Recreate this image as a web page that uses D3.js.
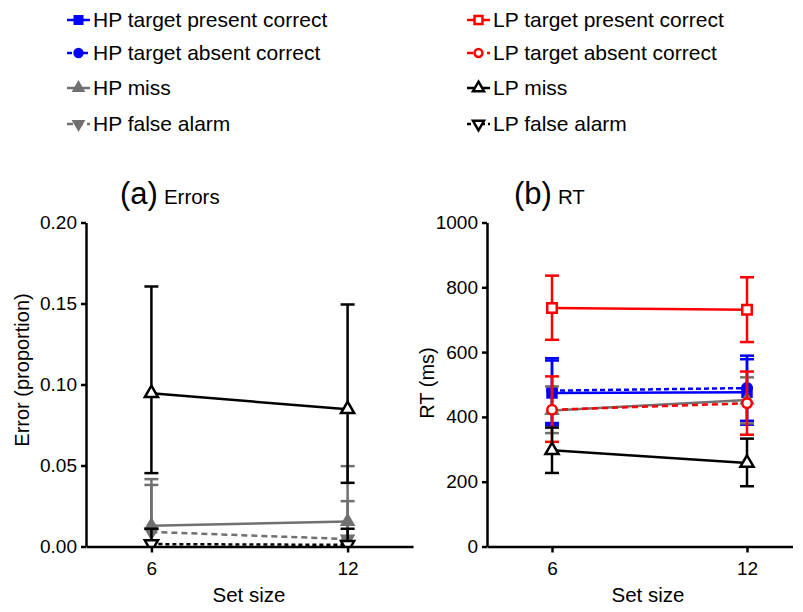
<!DOCTYPE html>
<html>
<head>
<meta charset="utf-8">
<script src="https://cdn.jsdelivr.net/npm/d3@7"></script>
<style>
  body { margin: 0; background: #fff; }
  svg text { font-family: "Liberation Sans", Arial, Helvetica, sans-serif; fill: #000; }
</style>
</head>
<body>
<div id="chart"></div>
<script>
// set sizes on the x axis
var setSizes = [6, 12]

// (a) errors, proportion: mean, lower and upper error bar ends
var errHpMiss = [0.0128, 0.0155], errHpMissLo = [-0.016, -0.019], errHpMissHi = [0.0416, 0.0496]
var errHpFa = [0.009, 0.0046], errHpFaLo = [-0.020, -0.019], errHpFaHi = [0.038, 0.028]
var errLpMiss = [0.0946, 0.0847], errLpMissLo = [0.0453, 0.0393], errLpMissHi = [0.1605, 0.1494]
var errLpFa = [0.0015, 0.001], errLpFaLo = [-0.008, -0.009], errLpFaHi = [0.011, 0.011]

// (b) RT in ms
var rtHpTp = [474, 476], rtHpTpLo = [374, 376], rtHpTpHi = [574, 578]
var rtHpTa = [481, 489], rtHpTaLo = [381, 388], rtHpTaHi = [581, 589]
var rtHpMiss = [420, 452], rtHpMissLo = [350, 380], rtHpMissHi = [494, 522]
var rtLpTp = [736, 731], rtLpTpLo = [638, 631], rtLpTpHi = [836, 831]
var rtLpTa = [422, 442], rtLpTaLo = [323, 345], rtLpTaHi = [525, 540]
var rtLpMiss = [297, 258], rtLpMissLo = [227, 186], rtLpMissHi = [367, 333]

var errTicks = [0, 0.05, 0.1, 0.15, 0.2]
var rtTicks = [0, 200, 400, 600, 800, 1000]

var blue = "#0000ff", red = "#ff0000", grey = "#707070", black = "#000000"

// series styles
var styles = {
    hpTp: { label: "HP target present correct", color: blue, dash: null, sym: d3.symbolSquare, filled: true, size: 80 },
    hpTa: { label: "HP target absent correct", color: blue, dash: "5,3", sym: d3.symbolCircle, filled: true, size: 70 },
    hpMiss: { label: "HP miss", color: grey, dash: null, sym: d3.symbolTriangle, filled: true, size: 55 },
    hpFa: { label: "HP false alarm", color: grey, dash: "6,4", sym: d3.symbolTriangle, filled: true, size: 55, down: true },
    lpTp: { label: "LP target present correct", color: red, dash: null, sym: d3.symbolSquare, filled: false, size: 90 },
    lpTa: { label: "LP target absent correct", color: red, dash: "6,4", sym: d3.symbolCircle, filled: false, size: 70 },
    lpMiss: { label: "LP miss", color: black, dash: null, sym: d3.symbolTriangle, filled: false, size: 75 },
    lpFa: { label: "LP false alarm", color: black, dash: "4,3", sym: d3.symbolTriangle, filled: false, size: 75, down: true }
}

var width = 803, height = 612

var svg = d3.select("#chart")
    .append("svg")
    .attr("width", width)
    .attr("height", height)

// legend
var legendLeft = ["hpTp", "hpTa", "hpMiss", "hpFa"]
var legendRight = ["lpTp", "lpTa", "lpMiss", "lpFa"]
var legendRows = [27, 60, 95, 131]

function drawMarker(g, st, x, y, scale) {
    g.append("path")
        .attr("d", d3.symbol().type(st.sym).size(st.size * (scale || 1)))
        .attr("transform", "translate(" + x + "," + y + ")" + (st.down ? " rotate(180)" : ""))
        .attr("fill", st.filled ? st.color : "#fff")
        .attr("stroke", st.color)
        .attr("stroke-width", 2.5)
}

function drawLegend(keys, x0) {
    keys.forEach(function (k, i) {
        var st = styles[k]
        var y = legendRows[i]
        var g = svg.append("g")
        g.append("line")
            .attr("x1", x0).attr("x2", x0 + 23)
            .attr("y1", y - 7).attr("y2", y - 7)
            .attr("stroke", st.color)
            .attr("stroke-width", 2.5)
            .attr("stroke-dasharray", st.dash)
        drawMarker(g, st, x0 + 11.5, y - 7, 0.7)
        g.append("text")
            .attr("x", x0 + 26)
            .attr("y", y)
            .style("font-size", "21px")
            .text(st.label)
    })
}
drawLegend(legendLeft, 67)
drawLegend(legendRight, 467)

function drawPanel(opts) {
    var x = d3.scaleLinear().domain(opts.xDomain).range(opts.xRange)
    var y = d3.scaleLinear().domain(opts.yDomain).range([546.5, 222.5])
    var g = svg.append("g")

    g.append("clipPath").attr("id", opts.id)
        .append("rect")
        .attr("x", opts.xRange[0]).attr("y", 200)
        .attr("width", opts.xRange[1] - opts.xRange[0])
        .attr("height", 546.5 - 200)

    var plot = g.append("g").attr("clip-path", "url(#" + opts.id + ")")

    opts.series.forEach(function (s) {
        var st = styles[s.key]
        var pts = setSizes.map(function (v, i) {
            return { x: v, m: s.mean[i], lo: s.lo[i], hi: s.hi[i] }
        })
        var sg = plot.append("g")
        // error bars
        pts.forEach(function (p) {
            var cx = x(p.x)
            sg.append("line")
                .attr("x1", cx).attr("x2", cx)
                .attr("y1", y(p.lo)).attr("y2", y(p.hi))
                .attr("stroke", st.color).attr("stroke-width", 2.5)
            ;[p.lo, p.hi].forEach(function (v) {
                sg.append("line")
                    .attr("x1", cx - 7).attr("x2", cx + 7)
                    .attr("y1", y(v)).attr("y2", y(v))
                    .attr("stroke", st.color).attr("stroke-width", 2.5)
            })
        })
        // connecting line
        sg.append("path")
            .datum(pts)
            .attr("d", d3.line().x(function (d) { return x(d.x) }).y(function (d) { return y(d.m) }))
            .attr("fill", "none")
            .attr("stroke", st.color)
            .attr("stroke-width", 2.5)
            .attr("stroke-dasharray", st.dash)
        pts.forEach(function (p) {
            drawMarker(sg, st, x(p.x), y(p.m))
        })
    })

    // axes
    var yAxis = g.append("g")
        .attr("transform", "translate(" + opts.xRange[0] + ",0)")
        .call(d3.axisLeft(y).tickValues(opts.yTicks).tickFormat(opts.yFormat).tickSize(5).tickSizeOuter(0).tickPadding(4))
    var xAxis = g.append("g")
        .attr("transform", "translate(0,546.5)")
        .call(d3.axisBottom(x).tickValues(setSizes).tickFormat(d3.format("d")).tickSize(6).tickSizeOuter(0).tickPadding(9))
    ;[yAxis, xAxis].forEach(function (a) {
        a.selectAll("path, line").attr("stroke", "#000").attr("stroke-width", 2.5)
        a.selectAll("text").style("font-size", "19px").attr("fill", "#000")
        a.attr("font-family", null)
    })

    // titles
    var t = g.append("text")
        .attr("x", opts.titleX)
        .attr("y", 204)
    t.append("tspan").style("font-size", "31px").text(opts.letter)
    t.append("tspan").attr("dx", 6).style("font-size", "20.5px").text(opts.title)

    g.append("text")
        .attr("x", opts.xLabelX).attr("y", 602)
        .attr("text-anchor", "middle")
        .style("font-size", "20.5px")
        .text("Set size")

    g.append("text")
        .attr("transform", "translate(" + opts.yLabelX + "," + opts.yLabelY + ") rotate(-90)")
        .attr("text-anchor", "middle")
        .style("font-size", "20px")
        .text(opts.yLabel)
}

drawPanel({
    id: "clipA",
    xDomain: [4, 14], xRange: [86, 413],
    yDomain: [0, 0.2], yTicks: errTicks, yFormat: d3.format(".2f"),
    letter: "(a)", title: "Errors", titleX: 120,
    xLabelX: 249, yLabel: "Error (proportion)", yLabelX: 29, yLabelY: 370,
    series: [
        { key: "hpMiss", mean: errHpMiss, lo: errHpMissLo, hi: errHpMissHi },
        { key: "hpFa", mean: errHpFa, lo: errHpFaLo, hi: errHpFaHi },
        { key: "lpMiss", mean: errLpMiss, lo: errLpMissLo, hi: errLpMissHi },
        { key: "lpFa", mean: errLpFa, lo: errLpFaLo, hi: errLpFaHi }
    ]
})

drawPanel({
    id: "clipB",
    xDomain: [4, 13.4], xRange: [487, 792.5],
    yDomain: [0, 1000], yTicks: rtTicks, yFormat: d3.format("d"),
    letter: "(b)", title: "RT", titleX: 514,
    xLabelX: 648, yLabel: "RT (ms)", yLabelX: 434, yLabelY: 383,
    series: [
        { key: "hpTp", mean: rtHpTp, lo: rtHpTpLo, hi: rtHpTpHi },
        { key: "hpTa", mean: rtHpTa, lo: rtHpTaLo, hi: rtHpTaHi },
        { key: "hpMiss", mean: rtHpMiss, lo: rtHpMissLo, hi: rtHpMissHi },
        { key: "lpTp", mean: rtLpTp, lo: rtLpTpLo, hi: rtLpTpHi },
        { key: "lpTa", mean: rtLpTa, lo: rtLpTaLo, hi: rtLpTaHi },
        { key: "lpMiss", mean: rtLpMiss, lo: rtLpMissLo, hi: rtLpMissHi }
    ]
})
</script>
</body>
</html>
